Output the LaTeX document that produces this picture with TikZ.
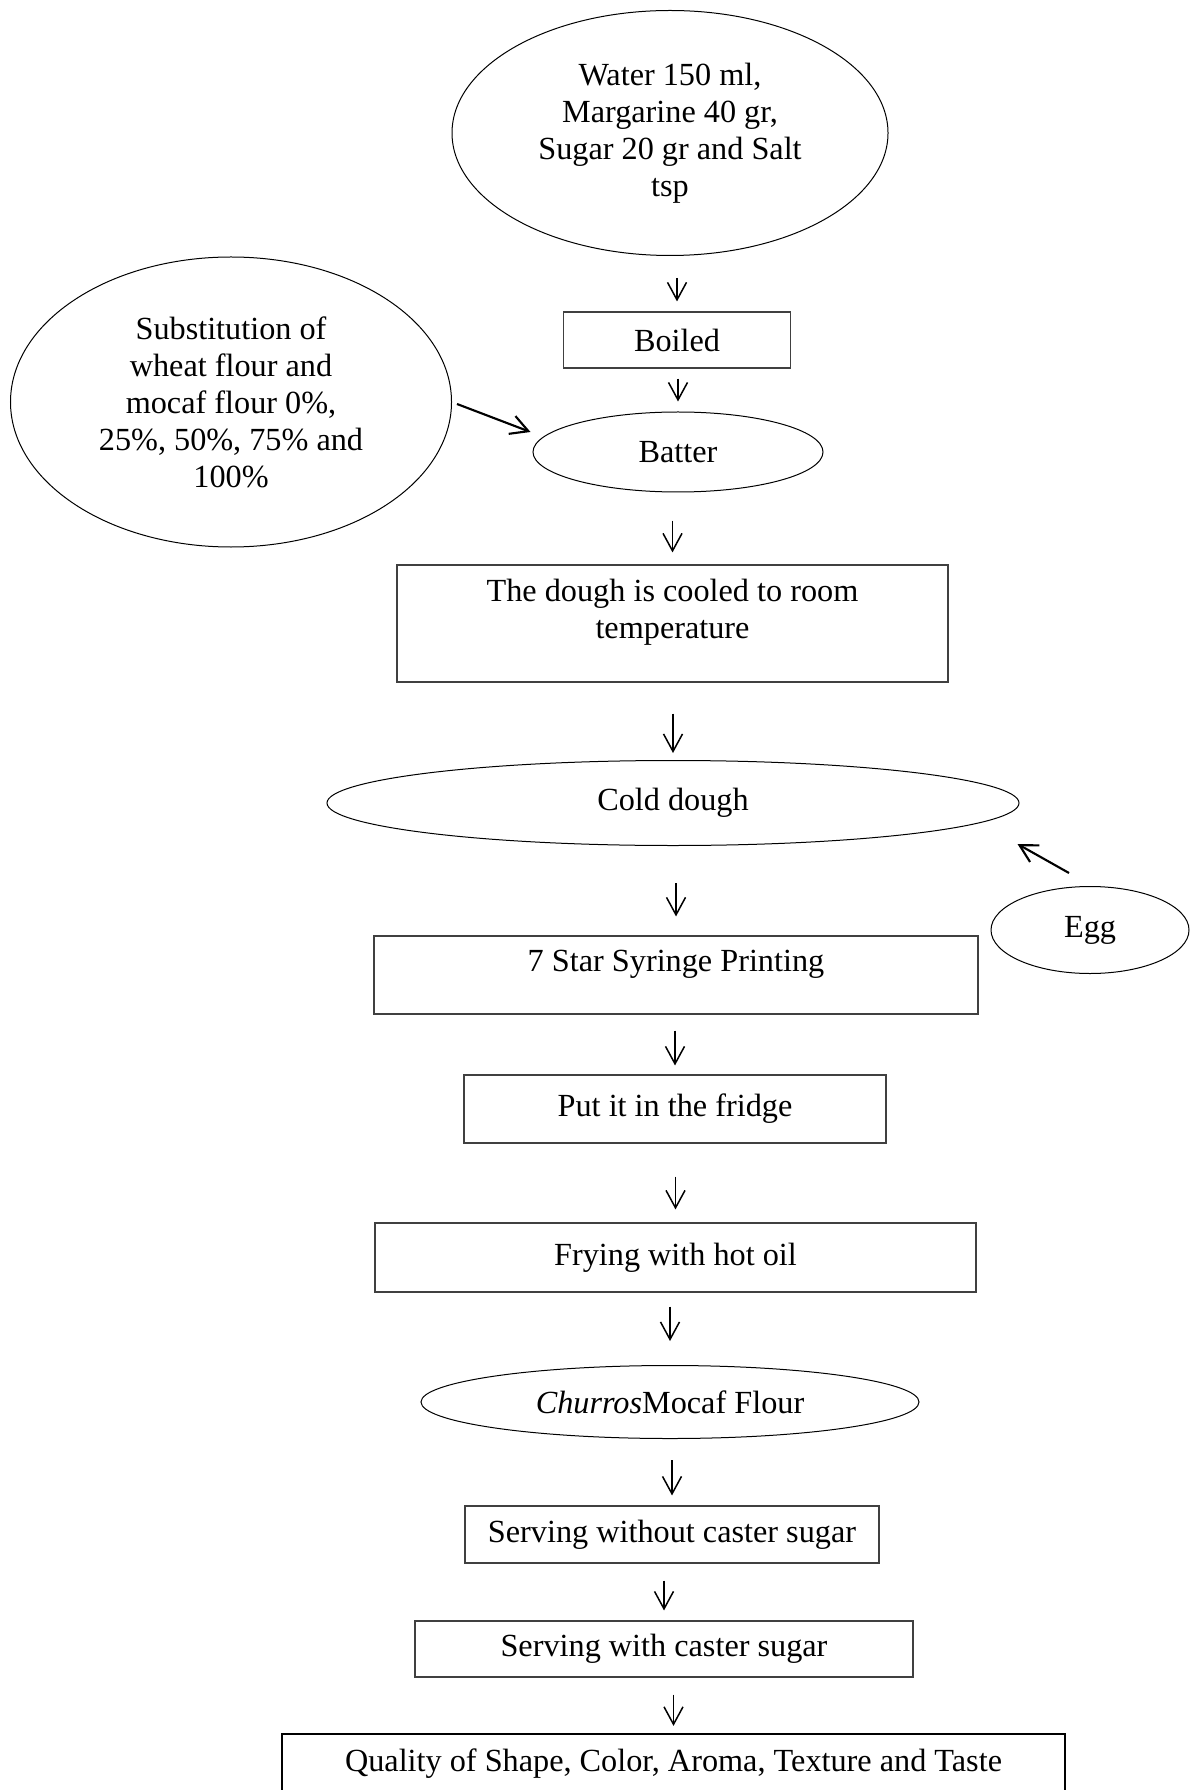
\documentclass[tikz,border=0pt]{standalone}
\usepackage{fontspec}
\setmainfont{Liberation Serif}
\usetikzlibrary{shapes.geometric,arrows.meta}
\begin{document}
\begin{tikzpicture}%
	[x=0.4pt, y=-0.4pt,
	txt/.style={font=\fontsize{12.9}{14.8}\selectfont, align=center},
	blob/.style={txt, ellipse, draw=black, line width=0.4pt, inner sep=0pt},
	procbox/.style={txt, rectangle, draw=black!75, line width=0.45pt, inner sep=0pt},
	flow/.style={-{Straight Barb[length=7pt,width=7.6pt]}, line width=0.6pt},
	feed/.style={-{Straight Barb[length=7pt,width=7.6pt]}, line width=0.85pt}]
\useasboundingbox (0,0) rectangle (1190,1790);
%%
%% Drawing the ellipses
%%
\node[blob, minimum width=174.4pt, minimum height=98pt] (water) at (670,133)
	{Water 150 ml,\\Margarine 40 gr,\\Sugar 20 gr and Salt\\tsp};
\node[blob, minimum width=176.4pt, minimum height=116pt] (subst) at (231,402)
	{Substitution of\\wheat flour and\\mocaf flour 0\%,\\25\%, 50\%, 75\% and\\100\%};
\node[blob, minimum width=116pt, minimum height=32pt] (batter) at (678,452) {Batter};
\node[blob, minimum width=276.8pt, minimum height=34pt] (cold) at (673,803) {Cold dough};
\node[blob, minimum width=79.2pt, minimum height=34.8pt] (egg) at (1090,930) {Egg};
\node[blob, minimum width=199.2pt, minimum height=29.2pt] (churros) at (670,1402) {\textit{Churros}Mocaf Flour};
%%
%% Drawing the boxes
%%
\node[procbox, minimum width=90.8pt, minimum height=22.4pt] (boiled) at (677,340) {Boiled};
\node[procbox, minimum width=220.4pt, minimum height=46.8pt, text depth=11.6pt] (dough) at (672.5,623.5)
	{The dough is cooled to room\\temperature};
\node[procbox, minimum width=241.6pt, minimum height=31.2pt, text depth=11.6pt] (syringe) at (676,975)
	{7 Star Syringe Printing};
\node[procbox, minimum width=168.8pt, minimum height=27.2pt] (fridge) at (675,1109) {Put it in the fridge};
\node[procbox, minimum width=240.4pt, minimum height=27.6pt] (frying) at (675.5,1257.5) {Frying with hot oil};
\node[procbox, minimum width=165.6pt, minimum height=22.8pt] (servno) at (672,1534.5) {Serving without caster sugar};
\node[procbox, minimum width=199.2pt, minimum height=22.4pt] (servyes) at (664,1649) {Serving with caster sugar};
\node[procbox, draw=black, line width=0.9pt, minimum width=313.2pt, minimum height=24pt] (quality) at (673.5,1764)
	{Quality of Shape, Color, Aroma, Texture and Taste};
%%
%% Drawing the arrows
%%
\draw[flow, shorten <=8.8pt, shorten >=4pt] (water.south -| boiled.north) -- (boiled.north);
\draw[flow, shorten <=4pt, shorten >=4pt] (boiled.south -| batter.north) -- (batter.north);
\draw[flow, shorten <=11.2pt, shorten >=4.8pt] (batter.south -| dough.north) -- (dough.north);
\draw[flow, shorten <=12.4pt, shorten >=2.8pt] (dough.south -| cold.north) -- (cold.north);
\draw[flow, shorten <=14.8pt, shorten >=7.6pt] (cold.south -| syringe.north) -- (syringe.north);
\draw[flow, shorten <=6.4pt, shorten >=3.6pt] (syringe.south -| fridge.north) -- (fridge.north);
\draw[flow, shorten <=13.2pt, shorten >=5.2pt] (fridge.south -| frying.north) -- (frying.north);
\draw[flow, shorten <=5.6pt, shorten >=9.6pt] (frying.south -| churros.north) -- (churros.north);
\draw[flow, shorten <=8.4pt, shorten >=4pt] (churros.south -| servno.north) -- (servno.north);
\draw[flow, shorten <=6.8pt, shorten >=4pt] (servno.south -| servyes.north) -- (servyes.north);
\draw[flow, shorten <=6.8pt, shorten >=2.8pt] (servyes.south -| quality.north) -- (quality.north);
\draw[feed] ([shift={(5,2)}]subst.east) -- ([shift={(-2,-20)}]batter.west);
\draw[feed] ([shift={(-21,-13)}]egg.north) -- ([shift={(-2,41)}]cold.east);
%%
\end{tikzpicture}
\end{document}
